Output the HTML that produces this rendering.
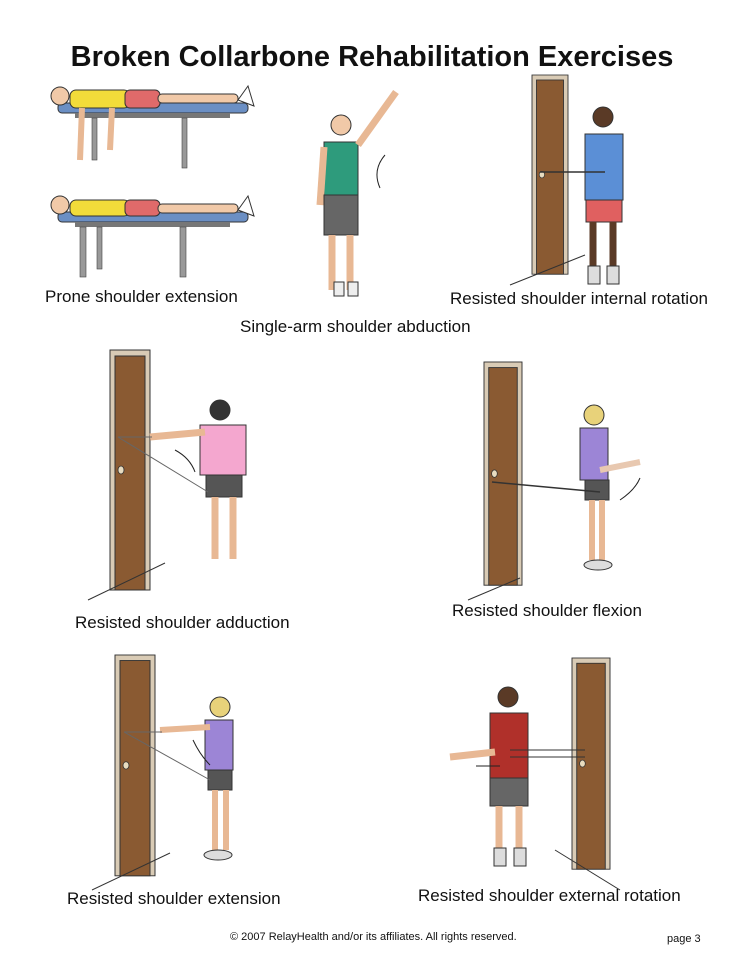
<!DOCTYPE html>
<html><head><meta charset="utf-8"><style>
html,body{margin:0;padding:0;background:#fff;}
svg{display:block}
text{font-family:"Liberation Sans",Arial,sans-serif;fill:#111}
</style></head><body>
<svg width="744" height="963" viewBox="0 0 744 963" xmlns="http://www.w3.org/2000/svg">
<defs>
<g id="door">
  <rect x="0" y="0" width="40" height="240" fill="#d9cbb5" stroke="#333" stroke-width="1"/>
  <rect x="5" y="6" width="30" height="234" fill="#8a5a32" stroke="#333" stroke-width="1"/>
  <ellipse cx="11" cy="120" rx="3" ry="4" fill="#e8dcc0" stroke="#333" stroke-width=".8"/>
</g>
</defs>
<rect width="744" height="963" fill="#fff"/>
<text x="372" y="66" font-size="29" font-weight="bold" text-anchor="middle">Broken Collarbone Rehabilitation Exercises</text>

<g>
  <rect x="58" y="103" width="190" height="10" rx="4" fill="#6b8fc4" stroke="#333"/>
  <rect x="75" y="113" width="155" height="5" fill="#777"/>
  <rect x="92" y="118" width="5" height="42" fill="#999" stroke="#444" stroke-width=".6"/>
  <rect x="182" y="118" width="5" height="50" fill="#999" stroke="#444" stroke-width=".6"/>
  <rect x="70" y="90" width="60" height="18" rx="6" fill="#f2dc3a" stroke="#333"/>
  <rect x="125" y="90" width="35" height="18" rx="5" fill="#e06a6a" stroke="#333"/>
  <rect x="158" y="94" width="80" height="9" rx="4" fill="#f1c9a8" stroke="#333"/>
  <circle cx="60" cy="96" r="9" fill="#f1c9a8" stroke="#333"/>
  <path d="M82 108 L80 160 M112 108 L110 150" stroke="#e8b894" stroke-width="6" fill="none"/>
  <path d="M238 100 l10 -14 l6 20 z" fill="#fff" stroke="#333"/>

  <rect x="58" y="212" width="190" height="10" rx="4" fill="#6b8fc4" stroke="#333"/>
  <rect x="75" y="222" width="155" height="5" fill="#777"/>
  <rect x="80" y="227" width="6" height="50" fill="#999" stroke="#444" stroke-width=".6"/>
  <rect x="97" y="227" width="5" height="42" fill="#999" stroke="#444" stroke-width=".6"/>
  <rect x="180" y="227" width="6" height="50" fill="#999" stroke="#444" stroke-width=".6"/>
  <rect x="70" y="200" width="60" height="16" rx="6" fill="#f2dc3a" stroke="#333"/>
  <rect x="125" y="200" width="35" height="16" rx="5" fill="#e06a6a" stroke="#333"/>
  <rect x="158" y="204" width="80" height="9" rx="4" fill="#f1c9a8" stroke="#333"/>
  <circle cx="60" cy="205" r="9" fill="#f1c9a8" stroke="#333"/>
  <path d="M238 210 l10 -14 l6 20 z" fill="#fff" stroke="#333"/>
</g>
<text x="45" y="302" font-size="17">Prone shoulder extension</text>

<g>
  <circle cx="341" cy="125" r="10" fill="#f1c9a8" stroke="#333"/>
  <path d="M324 142 h34 v55 h-34 z" fill="#2e9b7c" stroke="#333"/>
  <path d="M324 147 l-4 58" stroke="#e8b894" stroke-width="7"/>
  <path d="M358 145 L396 92" stroke="#e8b894" stroke-width="7"/>
  <path d="M324 195 h34 v40 h-34 z" fill="#666" stroke="#333"/>
  <path d="M332 235 v55 M350 235 v55" stroke="#e8b894" stroke-width="7"/>
  <rect x="334" y="282" width="10" height="14" fill="#eee" stroke="#333"/>
  <rect x="348" y="282" width="10" height="14" fill="#eee" stroke="#333"/>
  <path d="M380 188 Q372 170 385 155" stroke="#222" fill="none"/>
</g>
<text x="240" y="332" font-size="17">Single-arm shoulder abduction</text>

<use href="#door" transform="translate(532,75) scale(0.9,0.83)"/>
<path d="M510 285 L585 255" stroke="#333"/>
<g>
  <circle cx="603" cy="117" r="10" fill="#5a3a26" stroke="#333"/>
  <path d="M585 134 h38 v66 h-38 z" fill="#5b8fd6" stroke="#333"/>
  <path d="M586 200 h36 v22 h-36 z" fill="#e06060" stroke="#333"/>
  <path d="M593 222 v45 M613 222 v45" stroke="#5a3a26" stroke-width="7"/>
  <rect x="588" y="266" width="12" height="18" fill="#ddd" stroke="#333"/>
  <rect x="607" y="266" width="12" height="18" fill="#ddd" stroke="#333"/>
  <path d="M540 172 H605" stroke="#333" stroke-width="1.5"/>
</g>
<text x="450" y="304" font-size="17">Resisted shoulder internal rotation</text>

<use href="#door" transform="translate(110,350)"/>
<path d="M88 600 L165 563" stroke="#333"/>
<g>
  <circle cx="220" cy="410" r="10" fill="#333" stroke="#333"/>
  <path d="M200 425 h46 v50 h-46 z" fill="#f4a7cf" stroke="#333"/>
  <path d="M150 437 L205 432" stroke="#e8b894" stroke-width="7"/>
  <path d="M206 475 h36 v22 h-36 z" fill="#555" stroke="#333"/>
  <path d="M215 497 v62 M233 497 v62" stroke="#e8b894" stroke-width="7"/>
  <path d="M118 437 H152 M118 437 L208 492" stroke="#666" stroke-width="1"/>
  <path d="M175 450 Q190 458 195 472" stroke="#222" fill="none"/>
</g>
<text x="75" y="628" font-size="17">Resisted shoulder adduction</text>

<use href="#door" transform="translate(484,362) scale(0.95,0.93)"/>
<path d="M468 600 L520 578" stroke="#333"/>
<g>
  <circle cx="594" cy="415" r="10" fill="#e8d27a" stroke="#333"/>
  <path d="M580 428 h28 v52 h-28 z" fill="#9c85d6" stroke="#333"/>
  <path d="M585 480 h24 v20 h-24 z" fill="#555" stroke="#333"/>
  <path d="M592 500 v60 M602 500 v60" stroke="#e8b894" stroke-width="6"/>
  <ellipse cx="598" cy="565" rx="14" ry="5" fill="#ddd" stroke="#333"/>
  <path d="M492 482 L600 492" stroke="#333" stroke-width="1.5"/>
  <path d="M600 470 L640 462" stroke="#e8c8b0" stroke-width="6"/>
  <path d="M620 500 Q635 490 640 478" stroke="#222" fill="none"/>
</g>
<text x="452" y="616" font-size="17">Resisted shoulder flexion</text>

<use href="#door" transform="translate(115,655) scale(1,0.92)"/>
<path d="M92 890 L170 853" stroke="#333"/>
<g>
  <circle cx="220" cy="707" r="10" fill="#e8d27a" stroke="#333"/>
  <path d="M205 720 h28 v50 h-28 z" fill="#9c85d6" stroke="#333"/>
  <path d="M160 730 L210 727" stroke="#e8b894" stroke-width="6"/>
  <path d="M208 770 h24 v20 h-24 z" fill="#555" stroke="#333"/>
  <path d="M215 790 v60 M226 790 v60" stroke="#e8b894" stroke-width="6"/>
  <ellipse cx="218" cy="855" rx="14" ry="5" fill="#ddd" stroke="#333"/>
  <path d="M124 732 H162 M124 732 L210 780" stroke="#666" stroke-width="1"/>
  <path d="M193 740 Q200 755 210 765" stroke="#222" fill="none"/>
</g>
<text x="67" y="904" font-size="17">Resisted shoulder extension</text>

<use href="#door" transform="translate(572,658) scale(0.95,0.88)"/>
<path d="M555 850 L620 890" stroke="#333"/>
<g>
  <circle cx="508" cy="697" r="10" fill="#5a3a26" stroke="#333"/>
  <path d="M490 713 h38 v65 h-38 z" fill="#b0302a" stroke="#333"/>
  <path d="M490 778 h38 v28 h-38 z" fill="#666" stroke="#333"/>
  <path d="M499 806 v45 M519 806 v45" stroke="#e8b894" stroke-width="7"/>
  <rect x="494" y="848" width="12" height="18" fill="#ddd" stroke="#333"/>
  <rect x="514" y="848" width="12" height="18" fill="#ddd" stroke="#333"/>
  <path d="M450 757 L495 752" stroke="#e8b894" stroke-width="7"/>
  <path d="M510 750 H585 M510 757 H585" stroke="#333" stroke-width="1"/>
  <path d="M476 766 H500" stroke="#222"/>
</g>
<text x="418" y="901" font-size="17">Resisted shoulder external rotation</text>

<text x="230" y="940" font-size="11">© 2007 RelayHealth and/or its affiliates.  All rights reserved.</text>
<text x="667" y="942" font-size="11">page 3</text>
</svg>
</body></html>
